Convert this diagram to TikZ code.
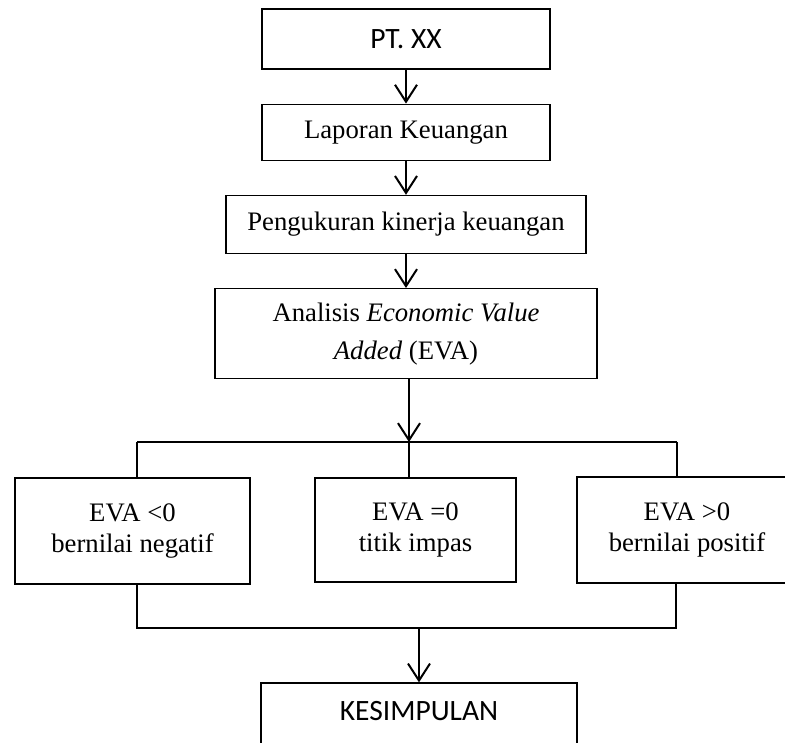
\documentclass[tikz,border=0pt]{standalone}
\usepackage{fontspec}
\setmainfont{Liberation Serif}
\newfontfamily\calibrifont{Carlito}
\usetikzlibrary{positioning, arrows.meta}
\tikzset{
  % Boxes
  sansbox/.style={
    draw, rectangle, line width=1.2pt, align=center,
    font=\calibrifont\fontsize{29.5}{34}\selectfont
  },
  serifbox/.style={
    draw, rectangle, line width=1.2pt, align=center,
    font=\fontsize{26.7}{31}\selectfont
  },
  % Connectors
  flow/.style={
    -{Straight Barb[length=17pt, width=22pt, line width=2pt]}, line width=2pt
  },
  branch/.style={
    -, line width=2pt
  },
}

\begin{document}
\begin{tikzpicture}[x=1pt, y=-1pt, node distance=34pt]

  \useasboundingbox (0,0) rectangle (785,743);

  %% -- Main chain --
  \node[sansbox, minimum width=288, minimum height=60] at (406,39) (pt) {PT. XX};
  \node[serifbox, minimum width=288, minimum height=56, below=of pt] (lapkeu) {Laporan Keuangan};
  \node[serifbox, minimum width=360, minimum height=58, below=of lapkeu] (ukur) {Pengukuran kinerja keuangan};
  \node[serifbox, minimum width=382, minimum height=90, below=of ukur] (eva)
    {Analisis \textit{Economic Value}\\[7pt]\textit{Added} (EVA)};

  %% -- Results --
  \node[serifbox, minimum width=235, minimum height=106] at (132.5,531) (neg) {EVA <0\\bernilai negatif};
  \node[serifbox, minimum width=201, minimum height=104] at (415.5,530) (nol) {EVA =0\\titik impas};
  \node[serifbox, minimum width=220, minimum height=106] at (687,530) (pos) {EVA >0\\bernilai positif};

  \node[sansbox, minimum width=316, minimum height=67, text depth=11pt] at (419,716.5) (simpul) {KESIMPULAN};

  %% -- Branch points --
  \coordinate (split)  at (409,442);
  \coordinate (splitL) at (137,442);
  \coordinate (splitR) at (677,442);
  \coordinate (joinL)  at (137,628);
  \coordinate (joinR)  at (676,628);
  \coordinate (join)   at (419,628);

  %% -- Connectors --
  \draw[flow] (pt) -- (lapkeu);
  \draw[flow] (lapkeu) -- (ukur);
  \draw[flow] (ukur) -- (eva);
  \draw[flow] (eva.south -| split) -- (split);

  \draw[branch] (splitL) -- (splitR);
  \draw[branch] (splitL) -- (splitL |- neg.north);
  \draw[branch] (split) -- (split |- nol.north);
  \draw[branch] (splitR) -- (splitR |- pos.north);

  \draw[branch] (joinL |- neg.south) -- (joinL) -- (joinR) -- (joinR |- pos.south);
  \draw[flow] (join) -- (simpul);

\end{tikzpicture}
\end{document}
